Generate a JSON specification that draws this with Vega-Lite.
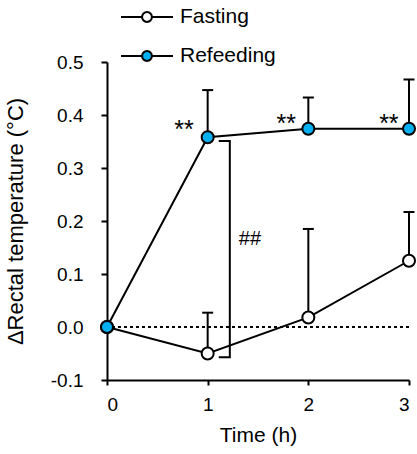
{
  "$schema": "https://vega.github.io/schema/vega-lite/v6.json",
  "width": 302,
  "height": 318,
  "autosize": {"type": "none"},
  "padding": {"left": 107, "top": 62, "right": 8, "bottom": 74},
  "background": "white",
  "config": {
    "view": {"stroke": null},
    "font": "Liberation Sans",
    "axis": {
      "grid": false,
      "domainColor": "black",
      "domainWidth": 2,
      "tickColor": "black",
      "tickWidth": 2,
      "labelColor": "black",
      "labelFont": "Liberation Sans",
      "labelFontSize": 19,
      "titleColor": "black",
      "titleFont": "Liberation Sans",
      "titleFontSize": 21,
      "titleFontWeight": "normal"
    },
    "legend": {
      "labelFont": "Liberation Sans",
      "labelFontSize": 21,
      "labelColor": "black"
    }
  },
  "datasets": {
    "temp": [
      {"time": 0, "group": "Fasting", "mean": 0, "upper": null},
      {"time": 1, "group": "Fasting", "mean": -0.05, "upper": 0.027},
      {"time": 2, "group": "Fasting", "mean": 0.018, "upper": 0.185},
      {"time": 3, "group": "Fasting", "mean": 0.125, "upper": 0.217},
      {"time": 0, "group": "Refeeding", "mean": 0, "upper": null},
      {"time": 1, "group": "Refeeding", "mean": 0.358, "upper": 0.447},
      {"time": 2, "group": "Refeeding", "mean": 0.374, "upper": 0.433},
      {"time": 3, "group": "Refeeding", "mean": 0.374, "upper": 0.467}
    ],
    "bracket": [
      {"k": 0, "bx": 1.12, "by": 0.351},
      {"k": 1, "bx": 1.22, "by": 0.351},
      {"k": 2, "bx": 1.22, "by": -0.057},
      {"k": 3, "bx": 1.12, "by": -0.057}
    ],
    "notes": [
      {"nx": 0.765, "ny": 0.357, "label": "**"},
      {"nx": 1.78, "ny": 0.368, "label": "**"},
      {"nx": 2.8, "ny": 0.368, "label": "**"}
    ],
    "hash": [
      {"nx": 1.31, "ny": 0.155, "label": "##"}
    ],
    "zero": [{"z": 0}]
  },
  "layer": [
    {
      "data": {"name": "zero"},
      "mark": {"type": "rule", "stroke": "black", "strokeWidth": 2, "strokeDash": [3, 3]},
      "encoding": {
        "y": {"field": "z", "type": "quantitative", "scale": {"domain": [-0.1, 0.5], "nice": false, "zero": false}}
      }
    },
    {
      "data": {"name": "bracket"},
      "mark": {"type": "line", "stroke": "black", "strokeWidth": 2, "strokeCap": "square", "strokeJoin": "miter"},
      "encoding": {
        "x": {"field": "bx", "type": "quantitative"},
        "y": {"field": "by", "type": "quantitative"},
        "order": {"field": "k"}
      }
    },
    {
      "data": {"name": "temp"},
      "transform": [{"filter": "datum.upper != null"}],
      "mark": {"type": "rule", "stroke": "black", "strokeWidth": 2},
      "encoding": {
        "x": {"field": "time", "type": "quantitative"},
        "y": {"field": "mean", "type": "quantitative"},
        "y2": {"field": "upper"}
      }
    },
    {
      "data": {"name": "temp"},
      "transform": [{"filter": "datum.upper != null"}],
      "mark": {"type": "tick", "orient": "horizontal", "color": "black", "size": 11, "thickness": 2, "opacity": 1},
      "encoding": {
        "x": {"field": "time", "type": "quantitative"},
        "y": {"field": "upper", "type": "quantitative"}
      }
    },
    {
      "data": {"name": "temp"},
      "mark": {"type": "line", "stroke": "black", "strokeWidth": 2},
      "encoding": {
        "x": {"field": "time", "type": "quantitative"},
        "y": {"field": "mean", "type": "quantitative"},
        "detail": {"field": "group"},
        "order": {"field": "time"}
      }
    },
    {
      "data": {"name": "temp"},
      "mark": {"type": "point", "shape": "circle", "filled": true, "size": 144, "stroke": "black", "strokeWidth": 2, "opacity": 1},
      "encoding": {
        "x": {
          "field": "time",
          "type": "quantitative",
          "scale": {"domain": [0, 3], "nice": false},
          "axis": {
            "values": [0, 1, 2, 3],
            "format": "d",
            "tickSize": 5,
            "labelPadding": 10,
            "title": "Time (h)",
            "titlePadding": 10
          }
        },
        "y": {
          "field": "mean",
          "type": "quantitative",
          "scale": {"domain": [-0.1, 0.5], "nice": false, "zero": false},
          "axis": {
            "values": [-0.1, 0, 0.1, 0.2, 0.3, 0.4, 0.5],
            "labelExpr": "replace(format(datum.value, '.1f'), '\u2212', '-')",
            "tickSize": 6,
            "labelPadding": 18,
            "title": "\u0394Rectal temperature (\u00b0C)",
            "titleFontSize": 22,
            "titlePadding": 23
          }
        },
        "fill": {
          "field": "group",
          "type": "nominal",
          "scale": {"domain": ["Fasting", "Refeeding"], "range": ["white", "#00B0F0"]},
          "legend": {
            "title": null,
            "orient": "none",
            "direction": "vertical",
            "legendX": 13,
            "legendY": -60,
            "symbolType": "M-1,0H-0.19A0.19,0.19,0,1,1,0.19,0A0.19,0.19,0,1,1,-0.19,0M0.19,0H1",
            "symbolSize": 2704,
            "symbolStrokeColor": "black",
            "symbolStrokeWidth": 2,
            "symbolOpacity": 1,
            "labelOffset": 6,
            "clipHeight": 30,
            "rowPadding": 9
          }
        }
      }
    },
    {
      "data": {"name": "notes"},
      "mark": {"type": "text", "fontSize": 25, "font": "Liberation Sans", "color": "black", "align": "center", "baseline": "alphabetic"},
      "encoding": {
        "x": {"field": "nx", "type": "quantitative"},
        "y": {"field": "ny", "type": "quantitative"},
        "text": {"field": "label"}
      }
    },
    {
      "data": {"name": "hash"},
      "mark": {"type": "text", "fontSize": 20, "font": "Liberation Sans", "color": "black", "align": "left", "baseline": "alphabetic"},
      "encoding": {
        "x": {"field": "nx", "type": "quantitative"},
        "y": {"field": "ny", "type": "quantitative"},
        "text": {"field": "label"}
      }
    }
  ]
}
